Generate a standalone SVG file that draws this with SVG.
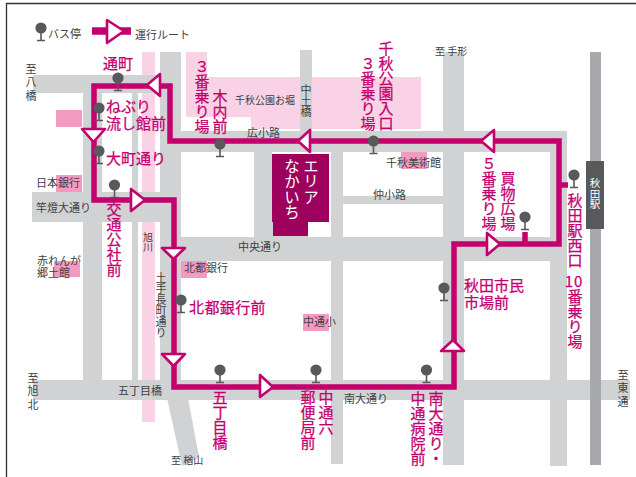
<svg xmlns="http://www.w3.org/2000/svg" width="636" height="477" viewBox="0 0 636 477">
<style>
text{font-family:"Noto Sans CJK JP","Noto Sans",sans-serif}
.g{fill:#414042;font-size:11px}
.s{font-size:10px}
.m{fill:#c4006e;font-size:15px;stroke:#c4006e;stroke-width:.25px}
.v{writing-mode:vertical-rl}
.road{fill:#d0d2d3}
.lp{fill:#f9d3e5}
.mp{fill:#f49ac1}
.route{fill:none;stroke:#c4006e;stroke-width:5.5;stroke-linejoin:miter}
.arrow{fill:#fff;stroke:#c4006e;stroke-width:2.6;stroke-linejoin:round}
</style>
<defs>
<g id="stop"><path d="M0 0V12.5M-4 12.5H4" fill="none" stroke="#58595b" stroke-width="1.6"/><circle r="5.6" fill="#58595b"/></g>
</defs>
<rect width="636" height="477" fill="#fff"/>
<path d="M6.500 477V3.500H636" fill="none" stroke="#333" stroke-width="1.300"/>
<g id="water">
<rect class="lp" x="142" y="52" width="13" height="370"/>
<path class="lp" d="M186 52H207V77H421V129H251V117H186Z"/>
</g>
<g id="roads">
<rect class="road" x="33" y="75" width="148" height="18"/>
<rect class="road" x="83" y="75" width="19" height="310"/>
<rect class="road" x="132" y="93" width="6" height="290"/>
<rect class="road" x="160" y="52" width="21" height="340"/>
<rect class="road" x="160" y="131" width="407" height="21"/>
<rect class="road" x="300" y="50" width="12" height="85"/>
<rect class="road" x="443" y="52" width="21" height="413"/>
<rect class="road" x="331" y="140" width="12" height="324"/>
<rect class="road" x="331" y="196" width="115" height="8"/>
<rect class="road" x="254" y="140" width="18" height="110"/>
<rect class="road" x="272" y="222" width="59" height="20"/>
<rect class="road" x="160" y="237" width="407" height="24"/>
<rect class="road" x="550" y="140" width="17" height="326"/>
<rect class="road" x="32" y="192" width="143" height="30"/>
<rect class="road" x="33" y="380" width="597" height="20"/>
<polygon class="road" points="167,398 188,398 199,457 182,466"/>
<rect x="308" y="222" width="23" height="15" fill="#fff"/>
<rect x="590" y="52" width="11" height="413" fill="#a7a9ac"/>
</g>
<g id="buildings">
<rect class="mp" x="56" y="110" width="26" height="17"/>
<rect class="mp" x="56" y="175" width="26" height="17"/>
<rect class="mp" x="54" y="261" width="26" height="16"/>
<rect class="mp" x="181" y="261" width="26" height="17"/>
<rect class="mp" x="303" y="314" width="26" height="17"/>
<rect class="mp" x="401" y="152" width="26" height="17"/>
</g>
<g id="area">
<path d="M272 154H329V222H308V236H273V222H272Z" fill="#9e005d"/>
<text x="311" y="158" class="v" fill="#fff" font-size="15.500">エリア</text>
<text x="292" y="158" class="v" fill="#fff" font-size="15.500">なかいち</text>
</g>
<g id="station">
<rect x="586" y="161" width="18" height="68" fill="#58595b"/>
<text x="595" y="178" class="v" fill="#fff" font-size="10.500">秋田駅</text>
</g>
<g id="connectors">
<path class="route" d="M94 86H170V141H559V244H454V387H174V200H94Z"/>
<path class="route" d="M559 185H568M525 244V232"/>
<path d="M92 31H131" stroke="#c4006e" stroke-width="7.500" fill="none"/>
<polygon class="arrow" points="107,20 107,43 124,31"/>
<polygon class="arrow" points="160,74 160,96 147,85"/>
<polygon class="arrow" points="310,130 310,152 298,141"/>
<polygon class="arrow" points="494,130 494,152 481,141"/>
<polygon class="arrow" points="82,129 105,129 93.500,142"/>
<polygon class="arrow" points="131,189 131,211 145,200"/>
<polygon class="arrow" points="162,248 185,248 173.500,259"/>
<polygon class="arrow" points="162,354 185,354 173.500,366"/>
<polygon class="arrow" points="260,375 260,397 273,387"/>
<polygon class="arrow" points="441,351 464,351 453,340"/>
<polygon class="arrow" points="487,233 487,255 500,244"/>
</g>
<g id="legend">
<use href="#stop" x="41" y="28"/>
<text class="g" x="48" y="38">バス停</text>
<text class="g" x="135" y="39">運行ルート</text>
</g>
<g id="stop-toorimachi"><use href="#stop" x="118" y="78"/><text class="m" x="103" y="69">通町</text></g>
<g id="stop-neburi"><use href="#stop" x="99" y="108"/><text class="m"><tspan x="106" y="112">ねぶり</tspan><tspan x="106" y="129">流し館前</tspan></text></g>
<g id="stop-omachi"><use href="#stop" x="99" y="151"/><text class="m" x="106" y="164">大町通り</text></g>
<g id="stop-kotsu"><use href="#stop" x="114.500" y="185"/><text class="m v" x="114" y="202">交通公社前</text></g>
<g id="stop-kinai"><use href="#stop" x="220" y="144"/><text class="m v" x="202" y="59">&#xFF13;番乗り場</text><text class="m v" x="220" y="89">木内前</text></g>
<g id="stop-senshu"><use href="#stop" x="373.500" y="141"/><text class="m v" x="386" y="41">千秋公園入口</text><text class="m v" x="368" y="56">&#xFF13;番乗り場</text></g>
<g id="stop-kaimono"><use href="#stop" x="525" y="217"/><text class="m v" x="508" y="171">買物広場</text><text class="m v" x="489" y="156">&#xFF15;番乗り場</text></g>
<g id="stop-akitaeki"><use href="#stop" x="574" y="175"/><text class="m v" x="575" y="193">秋田駅西口</text><text class="m" x="574" y="287" text-anchor="middle" font-size="16" letter-spacing="1">10</text><text class="m v" x="575" y="289">番乗り場</text></g>
<g id="stop-ichiba"><use href="#stop" x="444" y="288"/><text class="m"><tspan x="464" y="291">秋田市民</tspan><tspan x="464" y="308">市場前</tspan></text></g>
<g id="stop-hokuto"><use href="#stop" x="181" y="300"/><text class="m" x="189" y="313" letter-spacing=".4">北都銀行前</text></g>
<g id="stop-gochome"><use href="#stop" x="220" y="370"/><text class="m v" x="220" y="390">五丁目橋</text></g>
<g id="stop-nakadori6"><use href="#stop" x="316" y="370"/><text class="m v" x="308" y="390">郵便局前</text><text class="m v" x="326" y="390">中通六</text></g>
<g id="stop-minami"><use href="#stop" x="426.500" y="370"/><text class="m v" x="418" y="391">中通病院前</text><text class="m v" x="436" y="391">南大通り・</text></g>
<g id="labels">
<text class="g v" x="31" y="63" font-size="10.500" letter-spacing="2.500">至八橋</text>
<text class="g s" x="235" y="104">千秋公園お堀</text>
<text class="g v" x="306" y="84">中土橋</text>
<text class="g" x="247" y="137">広小路</text>
<text class="g" x="36" y="187">日本銀行</text>
<text class="g" x="36" y="212">竿燈大通り</text>
<text class="g v s" x="148" y="232">旭川</text>
<text class="g s" x="435" y="55">至 手形</text>
<text class="g" x="386" y="167">千秋美術館</text>
<text class="g" x="373" y="199">仲小路</text>
<text class="g" x="238" y="251">中央通り</text>
<text class="g"><tspan x="37" y="265">赤れんが</tspan><tspan x="37" y="277">郷土館</tspan></text>
<text class="g" x="184" y="272">北都銀行</text>
<text class="g v" x="161" y="272" font-size="10.500">土手長町通り</text>
<text class="g" x="303" y="326">中通小</text>
<text class="g v" x="33" y="372" letter-spacing="2.500">至旭北</text>
<text class="g" x="118" y="395">五丁目橋</text>
<text class="g" x="344" y="403">南大通り</text>
<text class="g s" x="171" y="464">至 楢山</text>
<text class="g v" x="623" y="369" letter-spacing="2.500">至東通</text>
</g>
</svg>
